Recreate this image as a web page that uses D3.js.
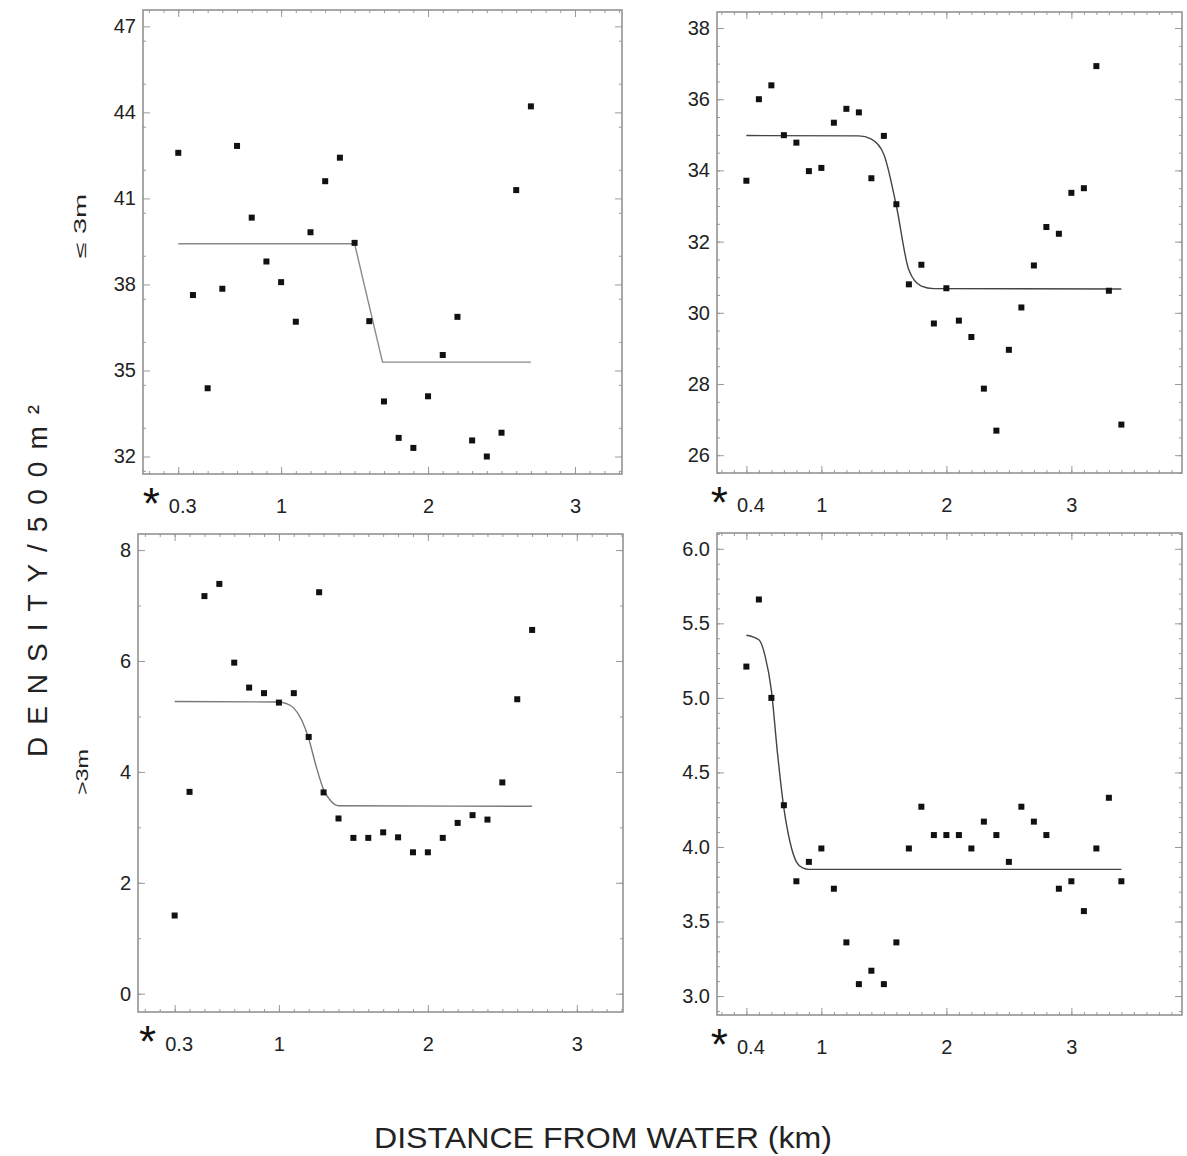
<!DOCTYPE html>
<html>
<head>
<meta charset="utf-8">
<script src="https://cdn.jsdelivr.net/npm/d3@7"></script>
<style>
  body { margin: 0; background: #fff; }
  svg { display: block; font-family: "Liberation Sans", Arial, sans-serif; }
</style>
</head>
<body>
<div id="chart"></div>
<script>
// Set the size of the page
var w = 1187;
var h = 1156;

// Distances (km) for the left-hand and right-hand columns
var distLeft = [0.3, 0.4, 0.5, 0.6, 0.7, 0.8, 0.9, 1.0, 1.1, 1.2, 1.3, 1.4, 1.5,
    1.6, 1.7, 1.8, 1.9, 2.0, 2.1, 2.2, 2.3, 2.4, 2.5, 2.6, 2.7];
var distLeftLow = [0.3, 0.4, 0.5, 0.6, 0.7, 0.8, 0.9, 1.0, 1.1, 1.2, 1.27, 1.3, 1.4, 1.5,
    1.6, 1.7, 1.8, 1.9, 2.0, 2.1, 2.2, 2.3, 2.4, 2.5, 2.6, 2.7];
var distRight = [0.4, 0.5, 0.6, 0.7, 0.8, 0.9, 1.0, 1.1, 1.2, 1.3, 1.4, 1.5, 1.6,
    1.7, 1.8, 1.9, 2.0, 2.1, 2.2, 2.3, 2.4, 2.5, 2.6, 2.7, 2.8, 2.9, 3.0, 3.1, 3.2, 3.3, 3.4];

// Densities, top row (<= 3m)
var densTopLeft = [42.59, 37.63, 34.38, 37.85, 42.83, 40.33, 38.8, 38.08, 36.7, 39.82,
    41.6, 42.42, 39.45, 36.72, 33.92, 32.65, 32.3, 34.1, 35.54, 36.87, 32.56, 32.0,
    32.83, 41.29, 44.21];
var densTopRight = [33.71, 36.0, 36.39, 34.99, 34.78, 33.98, 34.07, 35.34, 35.73, 35.63,
    33.78, 34.97, 33.05, 30.8, 31.35, 29.7, 30.69, 29.78, 29.32, 27.87, 26.69, 28.96,
    30.15, 31.33, 32.41, 32.22, 33.37, 33.5, 36.93, 30.62, 26.86];

// Densities, bottom row (> 3m)
var densLowLeft = [1.41, 3.64, 7.17, 7.39, 5.97, 5.52, 5.42, 5.25, 5.42, 4.63, 7.24,
    3.63, 3.16, 2.81, 2.81, 2.91, 2.82, 2.55, 2.55, 2.81, 3.08, 3.22, 3.14, 3.81, 5.31, 6.56];
var densLowRight = [5.21, 5.66, 5.0, 4.28, 3.77, 3.9, 3.99, 3.72, 3.36, 3.08, 3.17,
    3.08, 3.36, 3.99, 4.27, 4.08, 4.08, 4.08, 3.99, 4.17, 4.08, 3.9, 4.27, 4.17, 4.08,
    3.72, 3.77, 3.57, 3.99, 4.33, 3.77];

// Fitted curves
var fitTopLeftX = [0.3, 1.5, 1.69, 2.7];
var fitTopLeftY = [39.42, 39.42, 35.29, 35.29];
var fitTopRightX = [0.4, 1.3, 1.4, 1.5, 1.6, 1.7, 1.8, 1.9, 3.4];
var fitTopRightY = [34.98, 34.97, 34.88, 34.45, 33.0, 31.2, 30.75, 30.68, 30.67];
var fitLowLeftX = [0.3, 1.0, 1.05, 1.1, 1.15, 1.2, 1.25, 1.3, 1.35, 1.4, 2.7];
var fitLowLeftY = [5.27, 5.26, 5.23, 5.15, 4.95, 4.6, 4.1, 3.68, 3.47, 3.39, 3.38];
var fitLowRightX = [0.4, 0.5, 0.55, 0.6, 0.65, 0.7, 0.75, 0.8, 0.85, 0.9, 3.4];
var fitLowRightY = [5.42, 5.39, 5.28, 5.05, 4.62, 4.26, 4.03, 3.9, 3.86, 3.85, 3.85];

// Tick labels
var xTicksLeft = [0.3, 1, 2, 3];
var xTicksRight = [0.4, 1, 2, 3];
var yTicksTopLeft = [32, 35, 38, 41, 44, 47];
var yTicksTopRight = [26, 28, 30, 32, 34, 36, 38];
var yTicksLowLeft = [0, 2, 4, 6, 8];
var yTicksLowRight = [3.0, 3.5, 4.0, 4.5, 5.0, 5.5, 6.0];

// Panel layout
var panels = [
    { left: 143, right: 622, top: 10, bottom: 474, xDom: [0.06, 3.32], yDom: [31.39, 47.57],
      xs: distLeft, ys: densTopLeft, fx: fitTopLeftX, fy: fitTopLeftY, fitColor: "#8a8a8a",
      curve: d3.curveLinear,
      xTicks: xTicksLeft, yTicks: yTicksTopLeft, yMinor: 1.5, fmt: d3.format("d") },
    { left: 717, right: 1182, top: 12, bottom: 473, xDom: [0.165, 3.885], yDom: [25.5, 38.45],
      xs: distRight, ys: densTopRight, fx: fitTopRightX, fy: fitTopRightY, fitColor: "#444",
      curve: d3.curveMonotoneX,
      xTicks: xTicksRight, yTicks: yTicksTopRight, yMinor: 0.5, fmt: d3.format("d") },
    { left: 138, right: 623, top: 534, bottom: 1012, xDom: [0.054, 3.31], yDom: [-0.33, 8.29],
      xs: distLeftLow, ys: densLowLeft, fx: fitLowLeftX, fy: fitLowLeftY, fitColor: "#777",
      curve: d3.curveMonotoneX,
      xTicks: xTicksLeft, yTicks: yTicksLowLeft, yMinor: 1, fmt: d3.format("d") },
    { left: 717, right: 1182, top: 533, bottom: 1015, xDom: [0.165, 3.885], yDom: [2.873, 6.106],
      xs: distRight, ys: densLowRight, fx: fitLowRightX, fy: fitLowRightY, fitColor: "#444",
      curve: d3.curveMonotoneX,
      xTicks: xTicksRight, yTicks: yTicksLowRight, yMinor: 0.1, fmt: d3.format(".1f") }
];

// Create SVG element
var svg = d3.select("#chart")
    .append("svg")
    .attr("width", w)
    .attr("height", h);

svg.append("rect").attr("width", w).attr("height", h).attr("fill", "#fff");

panels.forEach(function (p) {
    var pw = p.right - p.left;
    var ph = p.bottom - p.top;

    var xScale = d3.scaleLinear().domain(p.xDom).range([0, pw]);
    var yScale = d3.scaleLinear().domain(p.yDom).range([ph, 0]);

    var g = svg.append("g").attr("transform", "translate(" + p.left + "," + p.top + ")");

    // Minor ticks
    var xMinor = d3.range(Math.ceil(p.xDom[0] * 10), Math.floor(p.xDom[1] * 10) + 1)
        .map(function (d) { return d / 10; });
    var yMinor = d3.range(Math.ceil(p.yDom[0] / p.yMinor), Math.floor(p.yDom[1] / p.yMinor) + 1)
        .map(function (d) { return +(d * p.yMinor).toFixed(3); });

    function tickAxis(axis, tr) {
        var a = g.append("g").attr("class", "ticks").attr("transform", tr).call(axis);
        a.select(".domain").remove();
        a.selectAll("line").attr("stroke", "#9a9a9a");
        return a;
    }

    tickAxis(d3.axisBottom(xScale).tickValues(xMinor).tickSize(-3).tickFormat(""), "translate(0," + ph + ")");
    tickAxis(d3.axisTop(xScale).tickValues(xMinor).tickSize(-3).tickFormat(""), "translate(0,0)");
    tickAxis(d3.axisLeft(yScale).tickValues(yMinor).tickSize(-3).tickFormat(""), "translate(0,0)");
    tickAxis(d3.axisRight(yScale).tickValues(yMinor).tickSize(-3).tickFormat(""), "translate(" + pw + ",0)");
    tickAxis(d3.axisTop(xScale).tickValues(p.xTicks).tickSize(-7).tickFormat(""), "translate(0,0)");
    tickAxis(d3.axisRight(yScale).tickValues(p.yTicks).tickSize(-7).tickFormat(""), "translate(" + pw + ",0)");

    // Bottom axis with labels
    var xa = tickAxis(d3.axisBottom(xScale).tickValues(p.xTicks).tickSize(-7).tickPadding(25)
        .tickFormat(function (d) { return d < 1 ? d3.format(".1f")(d) : d; }), "translate(0," + ph + ")");
    xa.selectAll("text")
        .attr("font-size", 20)
        .attr("fill", "#222")
        .attr("font-family", "Liberation Sans, Arial, sans-serif");
    xa.selectAll("text")
        .filter(function (d) { return d < 1; })
        .attr("dx", 4);

    // Asterisk next to the first distance label
    g.append("text")
        .attr("x", xScale(p.xTicks[0]) - 27)
        .attr("y", ph + 45)
        .attr("text-anchor", "middle")
        .attr("font-size", 44)
        .attr("fill", "#111")
        .text("*");

    // Left axis with labels
    var ya = tickAxis(d3.axisLeft(yScale).tickValues(p.yTicks).tickSize(-7).tickPadding(7)
        .tickFormat(p.fmt), "translate(0,0)");
    ya.selectAll("text")
        .attr("font-size", 20)
        .attr("fill", "#222")
        .attr("font-family", "Liberation Sans, Arial, sans-serif");

    // Frame
    g.append("rect")
        .attr("width", pw)
        .attr("height", ph)
        .attr("fill", "none")
        .attr("stroke", "#8c8c8c")
        .attr("stroke-width", 1.5);

    // Fitted curve
    var fit = p.fx.map(function (d, i) { return [d, p.fy[i]]; });
    g.append("path")
        .datum(fit)
        .attr("fill", "none")
        .attr("stroke", p.fitColor)
        .attr("stroke-width", 1.4)
        .attr("d", d3.line()
            .x(function (d) { return xScale(d[0]); })
            .y(function (d) { return yScale(d[1]); })
            .curve(p.curve));

    // Data points
    var pts = p.xs.map(function (d, i) { return [d, p.ys[i]]; });
    g.selectAll(".pt")
        .data(pts)
        .enter()
        .append("rect")
        .attr("class", "pt")
        .attr("x", function (d) { return xScale(d[0]) - 3; })
        .attr("y", function (d) { return yScale(d[1]) - 3; })
        .attr("width", 6)
        .attr("height", 6)
        .attr("fill", "#111");
});

// Row labels
svg.append("text")
    .attr("transform", "translate(86,226) rotate(-90)")
    .attr("text-anchor", "middle")
    .attr("font-size", 16)
    .attr("fill", "#222")
    .attr("textLength", 64)
    .attr("lengthAdjust", "spacingAndGlyphs")
    .text("\u2264  3m");

svg.append("text")
    .attr("transform", "translate(88,772) rotate(-90)")
    .attr("text-anchor", "middle")
    .attr("font-size", 16)
    .attr("fill", "#222")
    .attr("textLength", 46)
    .attr("lengthAdjust", "spacingAndGlyphs")
    .text(">3m");

// Y-axis title
svg.append("text")
    .attr("transform", "translate(47,581) rotate(-90)")
    .attr("text-anchor", "middle")
    .attr("font-size", 28)
    .attr("fill", "#222")
    .attr("textLength", 352)
    .attr("lengthAdjust", "spacing")
    .text("DENSITY/500m\u00B2");

// X-axis title
svg.append("text")
    .attr("x", 603)
    .attr("y", 1148)
    .attr("text-anchor", "middle")
    .attr("font-size", 30)
    .attr("fill", "#222")
    .attr("textLength", 458)
    .attr("lengthAdjust", "spacingAndGlyphs")
    .text("DISTANCE FROM WATER (km)");
</script>
</body>
</html>
